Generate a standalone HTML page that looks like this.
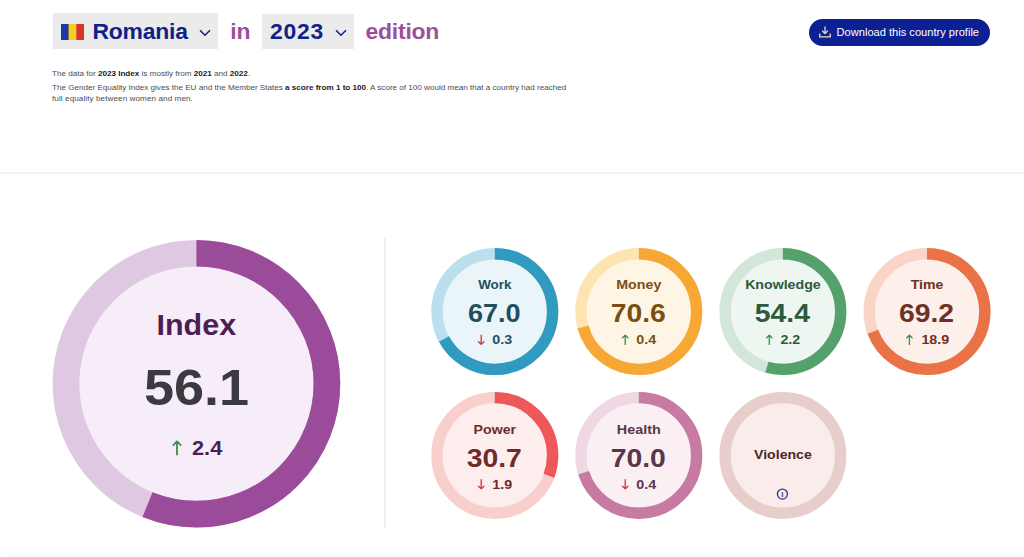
<!DOCTYPE html>
<html lang="en"><head><meta charset="utf-8"><title>Romania in 2023 edition</title>
<style>
html,body{margin:0;padding:0;background:#fff;}
body{width:1024px;height:557px;position:relative;overflow:hidden;font-family:"Liberation Sans",Arial,sans-serif;}
.sel{position:absolute;top:13px;height:36px;background:#ebebeb;box-sizing:border-box;}
.h{position:absolute;font-weight:700;font-size:22.9px;line-height:36px;top:13.2px;white-space:nowrap;letter-spacing:-0.2px}
.blue{color:#0e2288}
.pur{color:#9b509a}
.p{position:absolute;left:52px;font-size:8.1px;line-height:12.4px;color:#4d4d4d;white-space:nowrap;}
.p b{color:#222}
.btn{position:absolute;left:808.7px;top:19.1px;width:181.5px;height:26.6px;border-radius:14px;background:#0c2094;color:#fff;font-size:11.1px;line-height:27.4px;white-space:nowrap}
.btn span{position:absolute;left:27.9px;top:0}
.hr{position:absolute;left:0;top:171.5px;width:1024px;height:2px;background:#f1f1f1}
.vr{position:absolute;left:384px;top:238px;width:2px;height:290px;background:#f0f0f0}
.hr2{position:absolute;left:0;top:168px;width:1024px;height:2px;background:#fcfcfc}
.hr3{position:absolute;left:8px;top:555px;width:1016px;height:2px;background:#f9f9f9}
svg text{font-family:"Liberation Sans",Arial,sans-serif}
</style></head><body>
<div class="sel" style="left:53px;width:165px"></div>
<svg style="position:absolute;left:61px;top:24px" width="23" height="16" viewBox="0 0 23 16"><rect x="0" y="0" width="8" height="16" fill="#1c3aa0"/><rect x="7.6" y="0" width="8" height="16" fill="#f7d117"/><rect x="15.3" y="0" width="7.7" height="16" fill="#d9332a"/></svg>
<div class="h blue" style="left:92.4px">Romania</div>
<svg style="position:absolute;left:199px;top:29px" width="12" height="8" viewBox="0 0 12 8"><path d="M1 1.3 L6 6.3 L11 1.3" fill="none" stroke="#0e2288" stroke-width="1.5"/></svg>
<div class="h pur" style="left:230.3px">in</div>
<div class="sel" style="left:262px;width:91.5px;top:14px;height:35.3px"></div>
<div class="h blue" style="left:270px;letter-spacing:0.75px">2023</div>
<svg style="position:absolute;left:334.5px;top:29px" width="12" height="8" viewBox="0 0 12 8"><path d="M1 1.3 L6 6.3 L11 1.3" fill="none" stroke="#0e2288" stroke-width="1.5"/></svg>
<div class="h pur" style="left:365.5px">edition</div>
<div class="btn"><svg style="position:absolute;left:10.4px;top:6.9px" width="12" height="12" viewBox="0 0 12 12"><path d="M6 0.6 V7.4 M3.2 4.8 L6 7.6 L8.8 4.8 M0.7 7.6 V10.9 H11.3 V7.6" fill="none" stroke="#e9dcbc" stroke-width="1.3" stroke-linejoin="round"/></svg><span>Download this country profile</span></div>
<div class="p" style="top:67.5px">The data for <b>2023 Index</b> is mostly from <b>2021</b> and <b>2022</b>.</div>
<div class="p" style="top:81.9px">The Gender Equality Index gives the EU and the Member States <b>a score from 1 to 100</b>. A score of 100 would mean that a country had reached</div>
<div class="p" style="top:92.5px;letter-spacing:0.09px">full equality between women and men.</div>
<div class="hr"></div><div class="hr2"></div><div class="hr3"></div>
<div class="vr"></div>
<svg style="position:absolute;left:0;top:0" width="1024" height="557" viewBox="0 0 1024 557">
<circle cx="196.45" cy="383.7" r="117.60000000000001" fill="#f6edf8"/><circle cx="196.45" cy="383.7" r="130.45000000000002" fill="none" stroke="#dfc8e1" stroke-width="26.7"/><circle cx="196.45" cy="383.7" r="130.45000000000002" fill="none" stroke="#9a4b99" stroke-width="26.7" stroke-dasharray="459.82 819.64" transform="rotate(-90 196.45 383.7)"/>
<text transform="translate(196.3 334.6) scale(1.016 1)" font-size="30" font-weight="700" fill="#4b1f52" text-anchor="middle">Index</text>
<text transform="translate(196.5 405.2) scale(1.08 1)" font-size="50" font-weight="700" fill="#3a3a40" text-anchor="middle">56.1</text>
<path d="M177 454.6 V441.40000000000003 M173.3 445.1 L177 441.40000000000003 L180.7 445.1" fill="none" stroke="#3a8d4c" stroke-width="1.8" stroke-linecap="round" stroke-linejoin="round"/>
<text transform="translate(192 455) scale(1.09 1)" font-size="20" font-weight="700" fill="#4b1f52" text-anchor="start">2.4</text>
<circle cx="494.8" cy="311.6" r="52.6" fill="#e9f5f9"/><circle cx="494.8" cy="311.6" r="57.8" fill="none" stroke="#bbdfec" stroke-width="11.4"/><circle cx="494.8" cy="311.6" r="57.8" fill="none" stroke="#309abf" stroke-width="11.4" stroke-dasharray="243.32 363.17" transform="rotate(-90 494.8 311.6)"/>
<text transform="translate(494.8 289.3) scale(0.995 1)" font-size="13.5" font-weight="700" fill="#1f4f5e" text-anchor="middle">Work</text>
<text transform="translate(494.3 322.0) scale(1.083 1)" font-size="25" font-weight="700" fill="#1f4f5e" text-anchor="middle">67.0</text>
<text transform="translate(492.3 344.0) scale(1.06 1)" font-size="13.5" font-weight="700" fill="#1f4f5e" text-anchor="start">0.3</text>
<path d="M481.2 335.1 V344.40000000000003 M478.5 341.70000000000005 L481.2 344.40000000000003 L483.9 341.70000000000005" fill="none" stroke="#d1343a" stroke-width="1.3" stroke-linecap="round" stroke-linejoin="round"/>
<circle cx="638.8" cy="311.6" r="52.6" fill="#fef5e4"/><circle cx="638.8" cy="311.6" r="57.8" fill="none" stroke="#fde4b3" stroke-width="11.4"/><circle cx="638.8" cy="311.6" r="57.8" fill="none" stroke="#f7a735" stroke-width="11.4" stroke-dasharray="256.40 363.17" transform="rotate(-90 638.8 311.6)"/>
<text transform="translate(638.8 289.3) scale(1.055 1)" font-size="13.5" font-weight="700" fill="#7b4f12" text-anchor="middle">Money</text>
<text transform="translate(638.3 322.0) scale(1.134 1)" font-size="25" font-weight="700" fill="#7b4f12" text-anchor="middle">70.6</text>
<text transform="translate(636.3 344.0) scale(1.06 1)" font-size="13.5" font-weight="700" fill="#7b4f12" text-anchor="start">0.4</text>
<path d="M625.1999999999999 344.40000000000003 V335.1 M622.4999999999999 337.8 L625.1999999999999 335.1 L627.9 337.8" fill="none" stroke="#3a8d4c" stroke-width="1.3" stroke-linecap="round" stroke-linejoin="round"/>
<circle cx="782.9" cy="311.6" r="52.6" fill="#edf6f0"/><circle cx="782.9" cy="311.6" r="57.8" fill="none" stroke="#d2e7d9" stroke-width="11.4"/><circle cx="782.9" cy="311.6" r="57.8" fill="none" stroke="#55a16c" stroke-width="11.4" stroke-dasharray="197.56 363.17" transform="rotate(-90 782.9 311.6)"/>
<text transform="translate(782.9 289.3) scale(1.05 1)" font-size="13.5" font-weight="700" fill="#2c5a3d" text-anchor="middle">Knowledge</text>
<text transform="translate(782.4 322.0) scale(1.134 1)" font-size="25" font-weight="700" fill="#2c5a3d" text-anchor="middle">54.4</text>
<text transform="translate(780.4 344.0) scale(1.06 1)" font-size="13.5" font-weight="700" fill="#2c5a3d" text-anchor="start">2.2</text>
<path d="M769.3 344.40000000000003 V335.1 M766.5999999999999 337.8 L769.3 335.1 L772.0 337.8" fill="none" stroke="#3a8d4c" stroke-width="1.3" stroke-linecap="round" stroke-linejoin="round"/>
<circle cx="927" cy="311.6" r="52.6" fill="#fdefea"/><circle cx="927" cy="311.6" r="57.8" fill="none" stroke="#fad4c7" stroke-width="11.4"/><circle cx="927" cy="311.6" r="57.8" fill="none" stroke="#ea7247" stroke-width="11.4" stroke-dasharray="251.31 363.17" transform="rotate(-90 927 311.6)"/>
<text transform="translate(927 289.3) scale(1.043 1)" font-size="13.5" font-weight="700" fill="#6f3222" text-anchor="middle">Time</text>
<text transform="translate(926.5 322.0) scale(1.134 1)" font-size="25" font-weight="700" fill="#6f3222" text-anchor="middle">69.2</text>
<text transform="translate(921.4 344.0) scale(1.06 1)" font-size="13.5" font-weight="700" fill="#6f3222" text-anchor="start">18.9</text>
<path d="M909.4 344.40000000000003 V335.1 M906.6999999999999 337.8 L909.4 335.1 L912.1 337.8" fill="none" stroke="#3a8d4c" stroke-width="1.3" stroke-linecap="round" stroke-linejoin="round"/>
<circle cx="494.8" cy="455.4" r="52.6" fill="#fdeeed"/><circle cx="494.8" cy="455.4" r="57.8" fill="none" stroke="#f9cfcd" stroke-width="11.4"/><circle cx="494.8" cy="455.4" r="57.8" fill="none" stroke="#ee5858" stroke-width="11.4" stroke-dasharray="111.49 363.17" transform="rotate(-90 494.8 455.4)"/>
<text transform="translate(494.8 433.79999999999995) scale(1.049 1)" font-size="13.5" font-weight="700" fill="#6f2b2b" text-anchor="middle">Power</text>
<text transform="translate(494.3 466.49999999999994) scale(1.134 1)" font-size="25" font-weight="700" fill="#6f2b2b" text-anchor="middle">30.7</text>
<text transform="translate(492.3 488.49999999999994) scale(1.06 1)" font-size="13.5" font-weight="700" fill="#6f2b2b" text-anchor="start">1.9</text>
<path d="M481.2 479.59999999999997 V488.9 M478.5 486.2 L481.2 488.9 L483.9 486.2" fill="none" stroke="#d1343a" stroke-width="1.3" stroke-linecap="round" stroke-linejoin="round"/>
<circle cx="638.8" cy="455.4" r="52.6" fill="#faf0f4"/><circle cx="638.8" cy="455.4" r="57.8" fill="none" stroke="#efd8e3" stroke-width="11.4"/><circle cx="638.8" cy="455.4" r="57.8" fill="none" stroke="#c77ba2" stroke-width="11.4" stroke-dasharray="254.22 363.17" transform="rotate(-90 638.8 455.4)"/>
<text transform="translate(638.8 433.79999999999995) scale(1.064 1)" font-size="13.5" font-weight="700" fill="#5b3549" text-anchor="middle">Health</text>
<text transform="translate(638.3 466.49999999999994) scale(1.134 1)" font-size="25" font-weight="700" fill="#5b3549" text-anchor="middle">70.0</text>
<text transform="translate(636.3 488.49999999999994) scale(1.06 1)" font-size="13.5" font-weight="700" fill="#5b3549" text-anchor="start">0.4</text>
<path d="M625.1999999999999 479.59999999999997 V488.9 M622.4999999999999 486.2 L625.1999999999999 488.9 L627.9 486.2" fill="none" stroke="#d1343a" stroke-width="1.3" stroke-linecap="round" stroke-linejoin="round"/>
<circle cx="782.9" cy="455.4" r="52.6" fill="#faeceb"/><circle cx="782.9" cy="455.4" r="57.8" fill="none" stroke="#e7cecb" stroke-width="11.4"/>
<text transform="translate(782.9 459.09999999999997) scale(1.045 1)" font-size="13.5" font-weight="700" fill="#4b2929" text-anchor="middle">Violence</text>
<circle cx="782.4" cy="494.09999999999997" r="5" fill="#f4eef9" stroke="#37366e" stroke-width="1.3"/>
<text x="782.4" y="496.9" font-size="8" font-weight="700" fill="#37366e" text-anchor="middle">i</text>
</svg>
</body></html>
